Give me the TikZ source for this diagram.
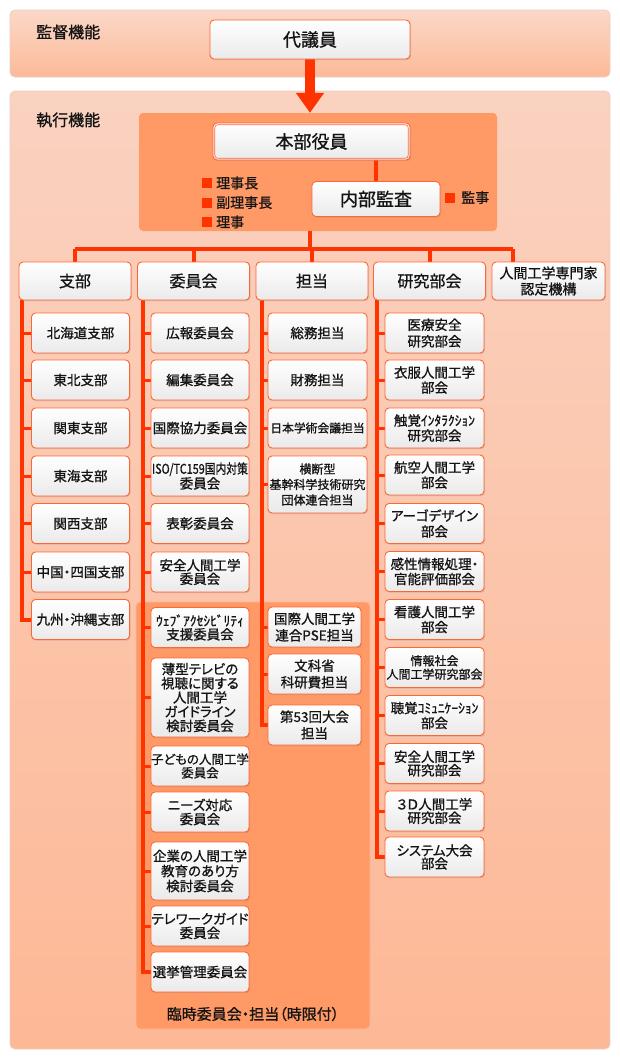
\documentclass[tikz,border=0pt]{standalone}
\usepackage{fontspec}
\usepackage{graphicx}
\setmainfont{Noto Sans CJK JP}[RawFeature=+palt,FakeBold=1]
\usetikzlibrary{shadows,arrows.meta}
\pgfdeclarelayer{panels}
\pgfdeclarelayer{lines}
\pgfsetlayers{panels,lines,main}
\definecolor{lineR}{RGB}{255,51,0}
\definecolor{boxB}{RGB}{255,102,51}
\definecolor{innerP}{RGB}{255,153,102}
\definecolor{outerT}{RGB}{251,216,200}
\definecolor{outerB}{RGB}{252,186,152}
\definecolor{outerTT}{RGB}{250,210,192}
\definecolor{outerBB}{RGB}{253,184,150}
\definecolor{panelE}{RGB}{236,206,192}
\definecolor{tempE}{RGB}{250,186,155}
\definecolor{txt}{RGB}{20,20,20}
\definecolor{boxG}{RGB}{234,234,234}
\tikzset{
  wbox/.style={draw=boxB, line width=0.9pt, rounded corners=4pt, top color=white, bottom color=boxG,
    drop shadow={opacity=0.25,shadow xshift=1pt,shadow yshift=-1.2pt}, inner sep=0pt, align=center, text=txt},
  kid/.style={wbox, minimum width=98pt, minimum height=40pt, font=\fontsize{13.5}{15}\selectfont},
  kidt/.style={kid, minimum width=93pt, font=\fontsize{13.5}{16.5}\selectfont},
  head/.style={wbox, minimum width=112pt, minimum height=38pt, font=\fontsize{16}{18}\selectfont},
  big/.style={wbox, font=\fontsize{18}{20}\selectfont},
  mline/.style={draw=lineR, line width=4pt, line join=miter},
  bline/.style={draw=lineR, line width=3pt},
  bullet/.style={fill=lineR, draw=none, minimum size=10pt, inner sep=0pt},
  btext/.style={anchor=west, inner sep=0pt, text=txt, font=\fontsize{14}{16}\selectfont},
  plabel/.style={anchor=west, inner sep=0pt, text=txt, font=\fontsize{16}{18}\selectfont},
}
\begin{document}
\begin{tikzpicture}[x=1pt,y=-1pt]
\useasboundingbox (0,0) rectangle (620,1060);
\begin{pgfonlayer}{panels}
\fill[white] (0,0) rectangle (620,1060);
\path[top color=outerT, bottom color=outerB, draw=panelE, line width=0.8pt, rounded corners=5pt] (10,10) rectangle (610,77);
\path[top color=outerTT, bottom color=outerBB, draw=panelE, line width=0.8pt, rounded corners=5pt] (10,91) rectangle (610,1049);
\node[inner sep=0pt, fill=innerP, rounded corners=4pt, minimum width=358pt, minimum height=118pt] (hqp) at (318,172) {};
\node[inner sep=0pt, fill=innerP, draw=tempE, line width=0.8pt, rounded corners=4pt, minimum width=234pt, minimum height=427pt] (tmp) at (253,815.5) {};
\end{pgfonlayer}

% panel labels
\node[plabel] (lab1) at (36,32) {監督機能};
\node[plabel] (lab2) at (36,120) {執行機能};
\node[text=txt, inner sep=0pt, font=\fontsize{15}{17}\selectfont] (tmplab) at (253,1014) {臨時委員会・担当（時限付）};

% top boxes
\node[big, minimum width=200pt, minimum height=39pt] (daigi) at (310,39.5) {代議員};
\node[big, minimum width=197pt, minimum height=37pt] (hq) at (311.5,141.5) {本部役員};
\draw[boxB, line width=0.6pt, rounded corners=3pt] ([shift={(2.2pt,-2.2pt)}]hq.north west) rectangle ([shift={(-2.2pt,2.2pt)}]hq.south east);
\node[big, minimum width=128pt, minimum height=35pt] (audit) at (376,199) {内部監査};

% bullets
\node[bullet] (q1) at (207,183) {};
\node[btext] (r1t) at (216,183) {理事長};
\node[bullet] (q2) at (207,202.5) {};
\node[btext] (r2t) at (216,202.5) {副理事長};
\node[bullet] (q3) at (207,222) {};
\node[btext] (r3t) at (216,222) {理事};
\node[bullet] (q4) at (450,197.5) {};
\node[btext] (r4t) at (461,197.5) {監事};

% headers
\node[head] (h1) at (75,281) {支部};
\node[head] (h2) at (193.5,281) {委員会};
\node[head] (h3) at (312,281) {担当};
\node[head] (h4) at (429.5,281) {研究部会};
\node[head, minimum width=113pt, font=\fontsize{14}{16}\selectfont] (h5) at (548.5,281) {人間工学専門家\\認定機構};

% branches (支部)
\node[kid] (s1) at (80.5,333) {北海道支部};
\node[kid] (s2) at (80.5,380) {東北支部};
\node[kid] (s3) at (80.5,428) {関東支部};
\node[kid] (s4) at (80.5,476) {東海支部};
\node[kid] (s5) at (80.5,523.5) {関西支部};
\node[kid] (s6) at (80.5,572) {中国・四国支部};
\node[kid] (s7) at (80.5,619.5) {九州・沖縄支部};

% committees
\node[kid, font=\fontsize{13.5}{13.5}\selectfont] (i1) at (200,333) {広報委員会};
\node[kid] (i2) at (200,380) {編集委員会};
\node[kid] (i3) at (200,428) {国際協力委員会};
\node[kid, font=\fontsize{13.5}{13.5}\selectfont] (i4) at (200,476) {\scalebox{0.8}[1]{ISO/TC159国内対策}\\委員会};
\node[kid] (i5) at (200,523.5) {表彰委員会};
\node[kid, font=\fontsize{13.5}{13.5}\selectfont] (i6) at (200,572) {安全人間工学\\委員会};
\node[kid, font=\fontsize{13.5}{13.5}\selectfont] (i7) at (200,627.5) {ｳｪﾌﾞｱｸｾｼﾋﾞﾘﾃｨ\\支援委員会};
\node[kid, minimum height=79pt, font=\fontsize{13.5}{14.2}\selectfont] (i8) at (200,697.5) {薄型テレビの\\視聴に関する\\人間工学\\ガイドライン\\検討委員会};
\node[kid, font=\fontsize{12.5}{13.5}\selectfont] (i9) at (200,766) {子どもの人間工学\\委員会};
\node[kid, font=\fontsize{13.5}{14}\selectfont] (i10) at (200,812) {ニーズ対応\\委員会};
\node[kid, minimum height=58pt, font=\fontsize{13.5}{15}\selectfont] (i11) at (200,871) {企業の人間工学\\教育のあり方\\検討委員会};
\node[kid, font=\fontsize{13.5}{14}\selectfont] (i12) at (200,926) {テレワークガイド\\委員会};
\node[kid] (i13) at (200,972) {選挙管理委員会};

% tanto
\node[kid, minimum width=99pt] (t1) at (317.5,333) {総務担当};
\node[kid, minimum width=99pt] (t2) at (317.5,380) {財務担当};
\node[kid, minimum width=99pt, font=\fontsize{11.8}{13}\selectfont] (t3) at (317.5,428) {日本学術会議担当};
\node[kid, minimum width=99pt, minimum height=57pt, font=\fontsize{12}{15.5}\selectfont] (t4) at (317.5,484.5) {横断型\\基幹科学技術研究\\団体連合担当};
\node[kidt] (t5) at (314.5,627) {国際人間工学\\連合PSE担当};
\node[kidt] (t6) at (314.5,674) {文科省\\科研費担当};
\node[kidt] (t7) at (314.5,725) {第53回大会\\担当};

% research groups
\node[kid, minimum width=99pt, font=\fontsize{13.5}{16.5}\selectfont] (g1) at (434.5,333) {医療安全\\研究部会};
\node[kid, minimum width=99pt] (g2) at (434.5,380) {衣服人間工学\\部会};
\node[kid, minimum width=99pt] (g3) at (434.5,428) {触覚ｲﾝﾀﾗｸｼｮﾝ\\研究部会};
\node[kid, minimum width=99pt] (g4) at (434.5,475) {航空人間工学\\部会};
\node[kid, minimum width=99pt, font=\fontsize{13.5}{15.7}\selectfont] (g5) at (434.5,523.5) {アーゴデザイン\\部会};
\node[kid, minimum width=99pt] (g6) at (434.5,571.5) {感性情報処理・\\官能評価部会};
\node[kid, minimum width=99pt] (g7) at (434.5,619.5) {看護人間工学\\部会};
\node[kid, minimum width=99pt, font=\fontsize{12}{13.5}\selectfont] (g8) at (434.5,667.5) {情報社会\\人間工学研究部会};
\node[kid, minimum width=99pt] (g9) at (434.5,715.5) {聴覚ｺﾐｭﾆｹｰｼｮﾝ\\部会};
\node[kid, minimum width=99pt, font=\fontsize{13.5}{13.5}\selectfont] (g10) at (434.5,763.5) {安全人間工学\\研究部会};
\node[kid, minimum width=99pt, font=\fontsize{13.5}{13.5}\selectfont] (g11) at (434.5,811) {３Ｄ人間工学\\研究部会};
\node[kid, minimum width=99pt, font=\fontsize{13.5}{13}\selectfont] (g12) at (434.5,857) {システム大会\\部会};

% connector coordinates
\coordinate (bus) at (310,249);
\coordinate (d5) at (513,249);
\coordinate (c1) at (22,0);
\coordinate (c2) at (143,0);
\coordinate (c3) at (262,0);
\coordinate (c4) at (377,0);

\begin{pgfonlayer}{lines}
\draw[draw=lineR, line width=10pt, -{Triangle[width=27pt,length=20pt]}] (daigi.south) -- (hqp.north -| daigi.south);
\draw[mline] (audit.north) -- (audit.north |- hq.south);
\draw[mline] (hqp.south -| bus) -- (bus);
\draw[mline, line width=4.5pt] (h1.north |- bus) -- (d5);
\foreach \h in {h1,h2,h3,h4} \draw[mline] (\h.north |- bus) -- (\h.north);
\draw[mline] (d5) -- (d5 |- h5.north);
% column spines
\draw[mline] (h1.south -| c1) -- (s7.west -| c1) -- (s7.west);
\draw[mline] (h2.south -| c2) -- (i13.west -| c2) -- (i13.west);
\draw[mline] (h3.south -| c3) -- (t7.west -| c3) -- (t7.west);
\draw[mline] (h4.south -| c4) -- (g12.west -| c4) -- (g12.west);
\foreach \n in {s1,s2,s3,s4,s5,s6} \draw[bline] (\n.west -| c1) -- (\n.west);
\foreach \n in {i1,i2,i3,i4,i5,i6,i7,i8,i9,i10,i11,i12} \draw[bline] (\n.west -| c2) -- (\n.west);
\foreach \n in {t1,t2,t3,t4,t5,t6} \draw[bline] (\n.west -| c3) -- (\n.west);
\foreach \n in {g1,g2,g3,g4,g5,g6,g7,g8,g9,g10,g11} \draw[bline] (\n.west -| c4) -- (\n.west);
\end{pgfonlayer}
\end{tikzpicture}
\end{document}
